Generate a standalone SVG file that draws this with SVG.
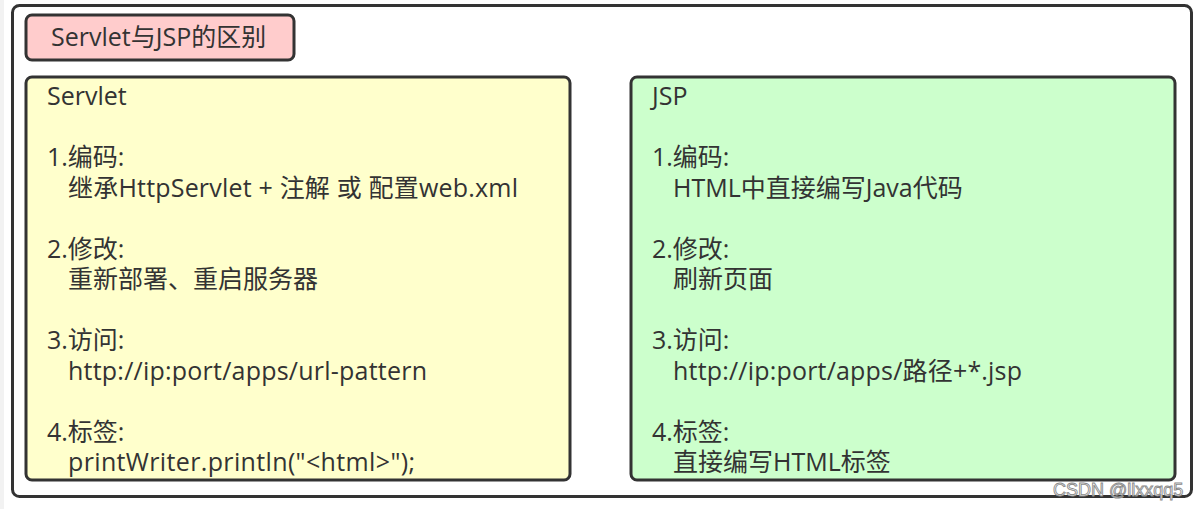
<svg xmlns="http://www.w3.org/2000/svg" width="1201" height="509" viewBox="0 0 1201 509">
<style>
.box{stroke:#333333;stroke-width:3}
.t{font-family:"Open Sans","Noto Sans CJK SC",sans-serif;font-size:25px;fill:#333333}
.wm{font-family:"Liberation Sans",Arial,sans-serif;font-size:18px;fill:#ffffff;stroke:#8a8a8a;stroke-width:0.9}
</style>
<rect x="0" y="0" width="1201" height="509" fill="#ffffff"/>
<rect x="0" y="0" width="4" height="509" fill="#f2f2f2"/>
<g id="container">
<rect class="box" x="12.5" y="5.5" width="1179" height="491" rx="7" fill="#ffffff"/>
</g>
<g id="title">
<rect class="box" x="26" y="15" width="268" height="45" rx="6" fill="#ffcccc"/>
<text class="t" x="51" y="46">Servlet与JSP的区别</text>
</g>
<g id="servlet">
<rect class="box" x="26" y="77" width="544" height="403" rx="6" fill="#ffffcc"/>
<text class="t">
<tspan x="47" y="105">Servlet</tspan>
<tspan x="47" y="166">1.编码:</tspan>
<tspan x="68" y="196.5" textLength="450" lengthAdjust="spacing">继承HttpServlet + 注解 或 配置web.xml</tspan>
<tspan x="47" y="257.5">2.修改:</tspan>
<tspan x="68" y="288">重新部署、重启服务器</tspan>
<tspan x="47" y="349">3.访问:</tspan>
<tspan x="68" y="379.5" textLength="359" lengthAdjust="spacing">http://ip:port/apps/url-pattern</tspan>
<tspan x="47" y="440.5">4.标签:</tspan>
<tspan x="68" y="471" textLength="347" lengthAdjust="spacing">printWriter.println("&lt;html&gt;");</tspan>
</text>
</g>
<g id="jsp">
<rect class="box" x="631" y="77" width="544" height="403" rx="6" fill="#ccffcc"/>
<text class="t">
<tspan x="652" y="105">JSP</tspan>
<tspan x="652" y="166">1.编码:</tspan>
<tspan x="673" y="196.5">HTML中直接编写Java代码</tspan>
<tspan x="652" y="257.5">2.修改:</tspan>
<tspan x="673" y="288">刷新页面</tspan>
<tspan x="652" y="349">3.访问:</tspan>
<tspan x="673" y="379.5" textLength="349" lengthAdjust="spacing">http://ip:port/apps/路径+*.jsp</tspan>
<tspan x="652" y="440.5">4.标签:</tspan>
<tspan x="673" y="471">直接编写HTML标签</tspan>
</text>
</g>
<g id="connectors"></g>
<text class="wm" x="1053" y="496">CSDN @llxxqq5</text>
</svg>
